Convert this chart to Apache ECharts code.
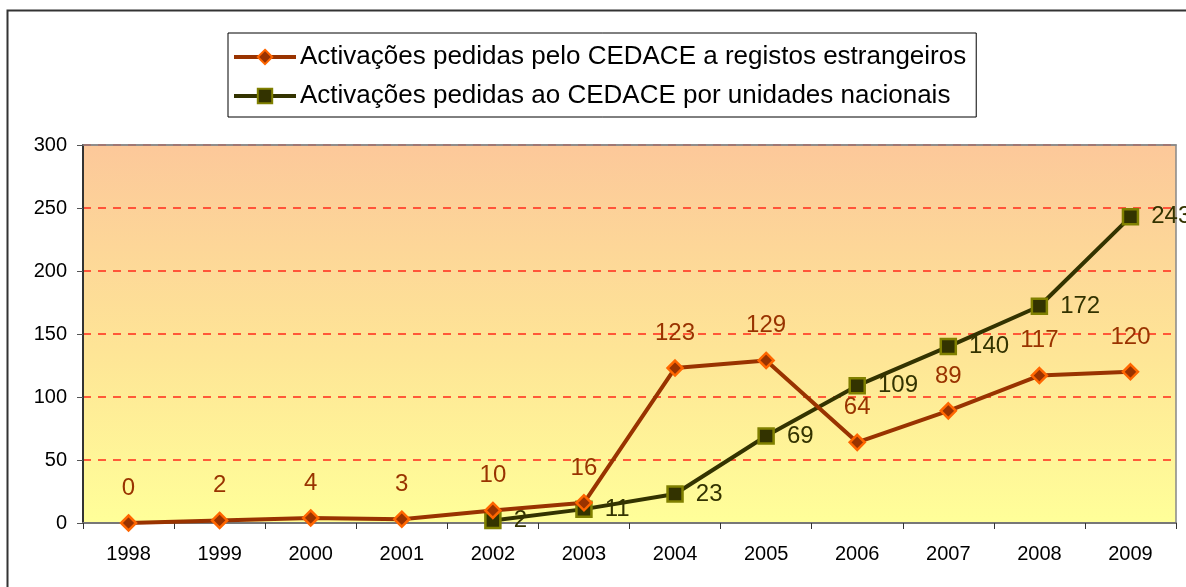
<!DOCTYPE html>
<html>
<head>
<meta charset="utf-8">
<script src="https://cdn.jsdelivr.net/npm/echarts@6/dist/echarts.min.js"></script>
<style>
html, body { margin: 0; padding: 0; background: #fff; }
#main { width: 1186px; height: 587px; }
</style>
</head>
<body>
<div id="main"></div>
<script>
// dados
var anos = ['1998', '1999', '2000', '2001', '2002', '2003', '2004', '2005', '2006', '2007', '2008', '2009'];
var estrangeiros = [0, 2, 4, 3, 10, 16, 123, 129, 64, 89, 117, 120];
var nacionais = [null, null, null, null, 2, 11, 23, 69, 109, 140, 172, 243];
var nomeEstr = 'Activações pedidas pelo CEDACE a registos estrangeiros';
var nomeNac = 'Activações pedidas ao CEDACE por unidades nacionais';

var myChart = echarts.init(document.getElementById('main'));

var option = {
	animation: false,
	textStyle: { fontFamily: 'Liberation Sans, Arial, sans-serif' },
	graphic: [{
		type: 'polyline',
		shape: { points: [[7.5, 590], [7.5, 10.5], [1190, 10.5]] },
		style: { stroke: '#333', lineWidth: 2, fill: null }
	}],
	legend: {
		orient: 'vertical',
		left: 228,
		top: 33,
		padding: [11, 10, 8, 4],
		itemGap: 13,
		itemWidth: 62,
		itemHeight: 18,
		borderColor: '#000',
		borderWidth: 1,
		backgroundColor: '#fff',
		lineStyle: { width: 4 },
		textStyle: { fontSize: 26, color: '#000', padding: [0, 0, 0, -1] },
		data: [nomeEstr, nomeNac]
	},
	grid: {
		left: 83,
		right: 10,
		top: 145,
		bottom: 64,
		show: true,
		borderColor: '#888',
		borderWidth: 1.5,
		backgroundColor: {
			type: 'linear', x: 0, y: 0, x2: 0, y2: 1,
			colorStops: [
				{ offset: 0, color: '#FCC89A' },
				{ offset: 0.55, color: '#FEE596' },
				{ offset: 1, color: '#FFFF99' }
			]
		}
	},
	xAxis: [{
		type: 'category',
		data: anos,
		boundaryGap: true,
		axisLine: { lineStyle: { color: '#777', width: 2 } },
		axisTick: { show: true, length: 6, lineStyle: { color: '#333' } },
		axisLabel: { fontSize: 20, color: '#000', margin: 21 }
	}, {
		// borda superior por cima da grelha
		type: 'category',
		data: anos,
		position: 'top',
		axisLine: { show: true, lineStyle: { color: '#888', width: 1.5 } },
		axisTick: { show: false },
		axisLabel: { show: false },
		splitLine: { show: false }
	}],
	yAxis: {
		type: 'value',
		min: 0,
		max: 300,
		interval: 50,
		axisLine: { show: true, lineStyle: { color: '#333', width: 2 } },
		axisTick: { show: true, length: 6, lineStyle: { color: '#555' } },
		axisLabel: { fontSize: 20, color: '#000', margin: 16 },
		splitLine: {
			show: true,
			lineStyle: { type: [8, 7], width: 1.5, color: '#FF2A1A' }
		}
	},
	series: [{
		name: nomeEstr,
		type: 'line',
		data: estrangeiros,
		symbol: 'diamond',
		symbolSize: 15,
		lineStyle: { color: '#993300', width: 4 },
		itemStyle: { color: '#993300', borderColor: '#FF6600', borderWidth: 2.5 },
		label: {
			show: true,
			position: 'top',
			distance: 14,
			fontSize: 24,
			color: '#993300'
		},
		z: 3
	}, {
		name: nomeNac,
		type: 'line',
		data: nacionais,
		symbol: 'rect',
		symbolSize: 15,
		lineStyle: { color: '#333300', width: 4 },
		itemStyle: { color: '#333300', borderColor: '#808000', borderWidth: 2.5 },
		label: {
			show: true,
			position: 'right',
			distance: 12,
			fontSize: 24,
			color: '#333300'
		},
		z: 2
	}]
};

myChart.setOption(option);
window.onresize = myChart.resize;
</script>
</body>
</html>
